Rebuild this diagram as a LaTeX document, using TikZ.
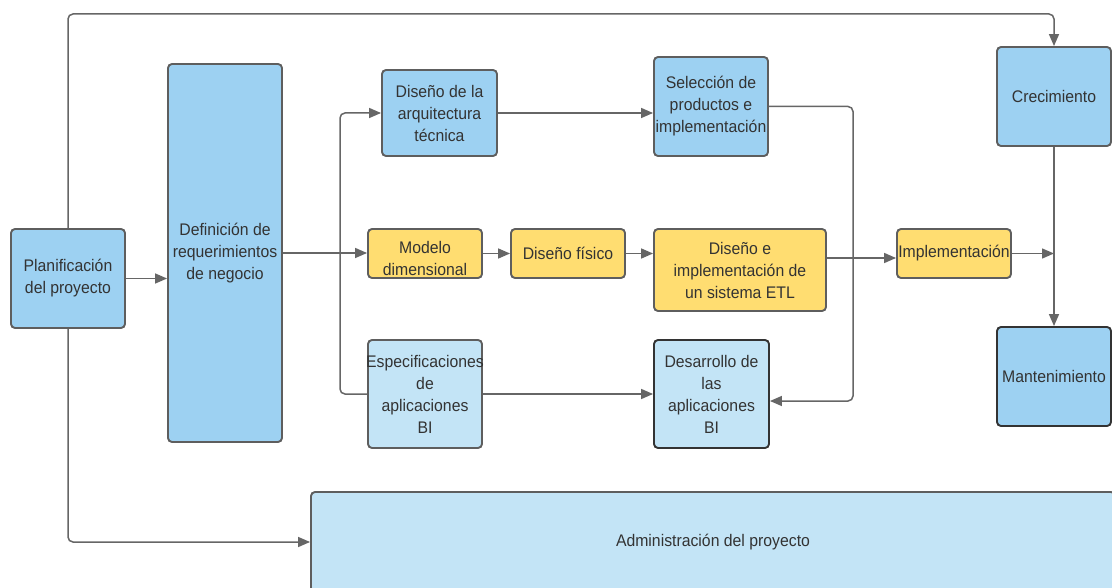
\documentclass[tikz,border=0pt]{standalone}
\usepackage{fontspec}
\setmainfont[FakeStretch=0.94]{Liberation Sans}
\usetikzlibrary{arrows.meta}
\definecolor{bluebox}{HTML}{9DD1F2}
\definecolor{lightblue}{HTML}{C3E4F6}
\definecolor{yellowbox}{HTML}{FFDD71}
\definecolor{edgegray}{HTML}{5E5E5E}
\definecolor{darkedge}{HTML}{333333}
\definecolor{txt}{HTML}{333333}
\definecolor{conngray}{HTML}{666666}
\begin{document}
\begin{tikzpicture}[x=1pt,y=-1pt,
  textst/.style={text=txt, align=center, font=\fontsize{16.8}{22}\selectfont, inner sep=0pt},
  box/.style={textst, draw=edgegray, line width=1.9pt, rounded corners=4pt},
  bluen/.style={box, fill=bluebox},
  lightn/.style={box, fill=lightblue},
  yellown/.style={box, fill=yellowbox},
  conn/.style={draw=conngray, line width=1.5pt, rounded corners=5pt},
  arr/.style={conn, -{Triangle[length=12pt,width=10pt]}}
]
\clip (0,0) rectangle (1112,588);
\fill[white] (0,0) rectangle (1112,588);

\node[bluen, minimum width=114pt, minimum height=99pt] (plan) at (68,278.5) {Planificación\\del proyecto};
\node[bluen, minimum width=114pt, minimum height=378pt] (def) at (225,253) {Definición de\\requerimientos\\de negocio};
\node[bluen, minimum width=115pt, minimum height=86pt] (arq) at (439.5,113) {Diseño de la\\arquitectura\\técnica};
\node[bluen, minimum width=114pt, minimum height=99pt] (sel) at (711,106.5) {Selección de\\productos e\\\makebox[110pt]{implementación}};
\node[bluen, minimum width=114pt, minimum height=99pt] (crec) at (1054,96.5) {Crecimiento};
\node[yellown, minimum width=114pt, minimum height=49pt] (mod) at (425,253.5) {};
\node[textst] (modtext) at ([yshift=-4.5pt]mod.center) {Modelo\\dimensional};
\node[yellown, minimum width=114pt, minimum height=49pt] (fis) at (568,253.5) {Diseño físico};
\node[yellown, minimum width=172pt, minimum height=82pt] (etl) at (740,270) {Diseño e\\implementación de\\un sistema ETL};
\node[yellown, minimum width=114pt, minimum height=49pt] (imp) at (954,253.5) {\makebox[110pt]{Implementación}};
\node[lightn, minimum width=114pt, minimum height=108pt] (esp) at (425,394) {\makebox[110pt]{Especificaciones}\\de\\aplicaciones\\BI};
\node[lightn, draw=darkedge, minimum width=115pt, minimum height=108pt] (des) at (711.5,394) {Desarrollo de\\las\\aplicaciones\\BI};
\node[bluen, draw=darkedge, minimum width=114pt, minimum height=99pt] (mant) at (1054,376.5) {\makebox[110pt]{Mantenimiento}};
\node[lightn, minimum width=804pt, minimum height=100pt] (admin) at (713,542) {Administración del proyecto};

\coordinate (topy) at (0,14);
\coordinate (brx) at (340,0);
\coordinate (rt) at (853,401);
\coordinate (e1) at ([yshift=12pt]etl.east);

\draw[arr] (plan.north) -- (plan.north |- topy) -- (crec.north |- topy) -- (crec.north);
\draw[arr] (plan.east) -- (plan.east -| def.west);
\draw[arr] (plan.south) |- (admin.west);
\draw[arr] (def.east) -- (def.east -| mod.west);
\draw[arr] (esp.west) -| (brx |- arq.west) -- (arq.west);
\draw[arr] (arq.east) -- (arq.east -| sel.west);
\draw[arr] (sel.east) -| (rt) -- (rt -| des.east);
\draw[arr] (mod.east) -- (fis.west);
\draw[arr] (fis.east) -- (fis.east -| etl.west);
\draw[arr] (e1) -- (e1 -| imp.west);
\draw[arr] (imp.east) -- (imp.east -| crec.south);
\draw[arr] (crec.south) -- (mant.north);
\draw[arr] (esp.east) -- (esp.east -| des.west);
\end{tikzpicture}
\end{document}
